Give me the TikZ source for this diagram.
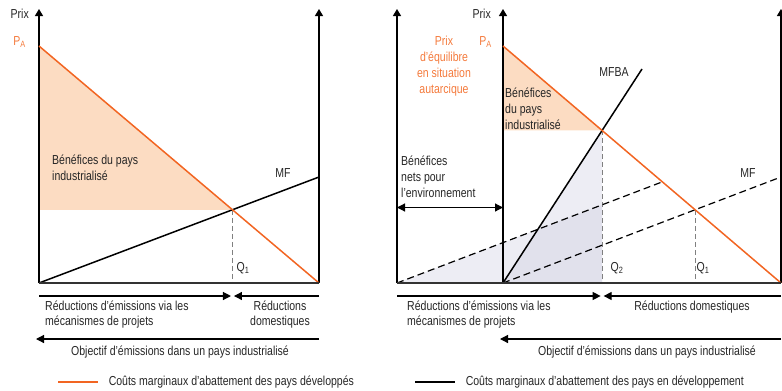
\documentclass[tikz,border=0pt]{standalone}
\usepackage{fontspec}
\setmainfont{Liberation Sans}[FakeStretch=0.81]
\usepackage{xcolor}
\definecolor{accentorange}{HTML}{F26522}
\definecolor{textorange}{HTML}{F47A3C}
\definecolor{peach}{HTML}{FCDCC2}
\definecolor{lavender}{HTML}{C4C4DA}
\definecolor{baseink}{HTML}{333333}
\usetikzlibrary{arrows.meta,calc}

\begin{document}
\begin{tikzpicture}[x=1pt,y=-1pt,
    axis/.style={draw=black, line width=1.2pt, -{Triangle[length=7pt,width=8pt]}},
    flow/.style={draw=black, line width=1.2pt, -{Triangle[length=8pt,width=8pt]}},
    flowboth/.style={draw=black, line width=1.2pt, {Triangle[length=8pt,width=8pt]}-{Triangle[length=8pt,width=8pt]}},
    baseaxis/.style={draw=baseink, line width=1.8pt},
    costdev/.style={draw=accentorange, line width=1.5pt},
    costpvd/.style={draw=black, line width=1.5pt},
    costdash/.style={draw=black, line width=1.2pt, dash pattern=on 7pt off 4pt},
    qline/.style={draw=gray, line width=0.8pt, dash pattern=on 5pt off 3pt},
    shade/.style={fill=lavender, fill opacity=0.3},
    txt/.style={font=\fontsize{13}{15.8}\selectfont, inner sep=0pt, text=black!85},
    orangetxt/.style={txt, text=textorange}]
  \useasboundingbox (0,0) rectangle (782,391);

  % left panel
  \coordinate (O1) at (39,283);
  \coordinate (E1) at (319,283);
  \coordinate (PA1) at (39,46);
  \coordinate (MF1) at (319,177);
  \coordinate (X1) at (intersection of PA1--E1 and O1--MF1);
  \fill[peach] (PA1) -- (X1) -- (O1 |- X1) -- cycle;
  \draw[axis] (O1) -- (39,9);
  \draw[axis] (E1) -- (319,9);
  \draw[qline] (X1) -- (X1 |- O1);
  \draw[costpvd] (O1) -- (MF1);
  \draw[costdev] (PA1) -- (E1);
  \draw[baseaxis] (O1) -- (E1);
  \node[txt, anchor=east] (prix1) at (29,14) {Prix};
  \node[orangetxt, anchor=east] (pa1) at (26,42) {P\textsubscript{A}};
  \node[txt, anchor=west, align=left] (ben1) at (52,168) {Bénéfices du pays\\industrialisé};
  \node[txt] (mf1) at (283,173) {MF};
  \node[txt] (q1) at (243,268) {Q\textsubscript{1}};
  \draw[flow] (39,296) -- ($(X1 |- O1)+(-1.5,13)$);
  \draw[flow] (319,296) -- ($(X1 |- O1)+(1.5,13)$);
  \node[txt, anchor=west, align=left] (red1) at (45,314.5) {Réductions d’émissions via les\\mécanismes de projets};
  \node[txt, align=center] (dom1) at (280,314.5) {Réductions\\domestiques};
  \draw[flow] (319,339) -- (36,339);
  \node[txt] (obj1) at (180,352) {Objectif d’émissions dans un pays industrialisé};

  % right panel
  \coordinate (L2) at (397,283);
  \coordinate (O2) at (503,283);
  \coordinate (E2) at (781,283);
  \coordinate (PA2) at (503,46);
  \coordinate (MF2) at (781,177);
  \coordinate (B2) at (642,69);
  \coordinate (X2) at (intersection of PA2--E2 and O2--B2);
  \coordinate (Z2) at (intersection of PA2--E2 and O2--MF2);
  \coordinate (L2f) at ($(L2)+(278,-106)$);
  \coordinate (Y2) at (intersection of PA2--E2 and L2--L2f);
  \coordinate (X2b) at (X2 |- O2);
  \coordinate (U2) at (intersection of L2--Y2 and X2--X2b);
  \fill[peach] (PA2) -- (X2) -- (PA2 |- X2) -- cycle;
  \fill[shade] (O2) -- (X2) -- (X2b) -- cycle;
  \fill[shade] (L2) -- (U2) -- (X2b) -- cycle;
  \draw[axis] (L2) -- (397,9);
  \draw[axis] (O2) -- (503,9);
  \draw[axis] (E2) -- (781,9);
  \draw[qline] (X2) -- (X2b);
  \draw[qline] (Z2) -- (Z2 |- O2);
  \draw[costdash] (L2) -- (Y2);
  \draw[costdash] (O2) -- (MF2);
  \draw[costpvd] (O2) -- (B2);
  \draw[costdev] (PA2) -- (E2);
  \draw[baseaxis] (L2) -- (E2);
  \node[txt, anchor=east] (prix2) at (491,14) {Prix};
  \node[orangetxt, anchor=east] (pa2) at (492,42) {P\textsubscript{A}};
  \node[orangetxt, align=center] (autar) at (444,66) {Prix\\d’équilibre\\en situation\\autarcique};
  \node[txt] (mfba) at (614,72) {MFBA};
  \node[txt, anchor=west, align=left] (ben2) at (505,109) {Bénéfices\\du pays\\industrialisé};
  \node[txt, anchor=west, align=left] (env) at (401,176.5) {Bénéfices\\nets pour\\l’environnement};
  \draw[flowboth] (397,207.5) -- (503,207.5);
  \node[txt] (mf2) at (748,173) {MF};
  \node[txt] (q2) at (617,268) {Q\textsubscript{2}};
  \node[txt] (q1b) at (703,268) {Q\textsubscript{1}};
  \draw[flow] (397,296) -- ($(X2b)+(-1.5,13)$);
  \draw[flow] (781,296) -- ($(X2b)+(1.5,13)$);
  \node[txt, anchor=west, align=left] (red2) at (407,314.5) {Réductions d’émissions via les\\mécanismes de projets};
  \node[txt] (dom2) at (692,307) {Réductions domestiques};
  \draw[flow] (781,339) -- (500,339);
  \node[txt] (obj2) at (647,352) {Objectif d’émissions dans un pays industrialisé};

  % legend
  \draw[costdev] (58,382) -- (98,382) node[txt, anchor=west, xshift=10pt] (leg1) {Coûts marginaux d’abattement des pays développés};
  \draw[costpvd] (415,382) -- (455,382) node[txt, anchor=west, xshift=10pt] (leg2) {Coûts marginaux d’abattement des pays en développement};
\end{tikzpicture}
\end{document}
